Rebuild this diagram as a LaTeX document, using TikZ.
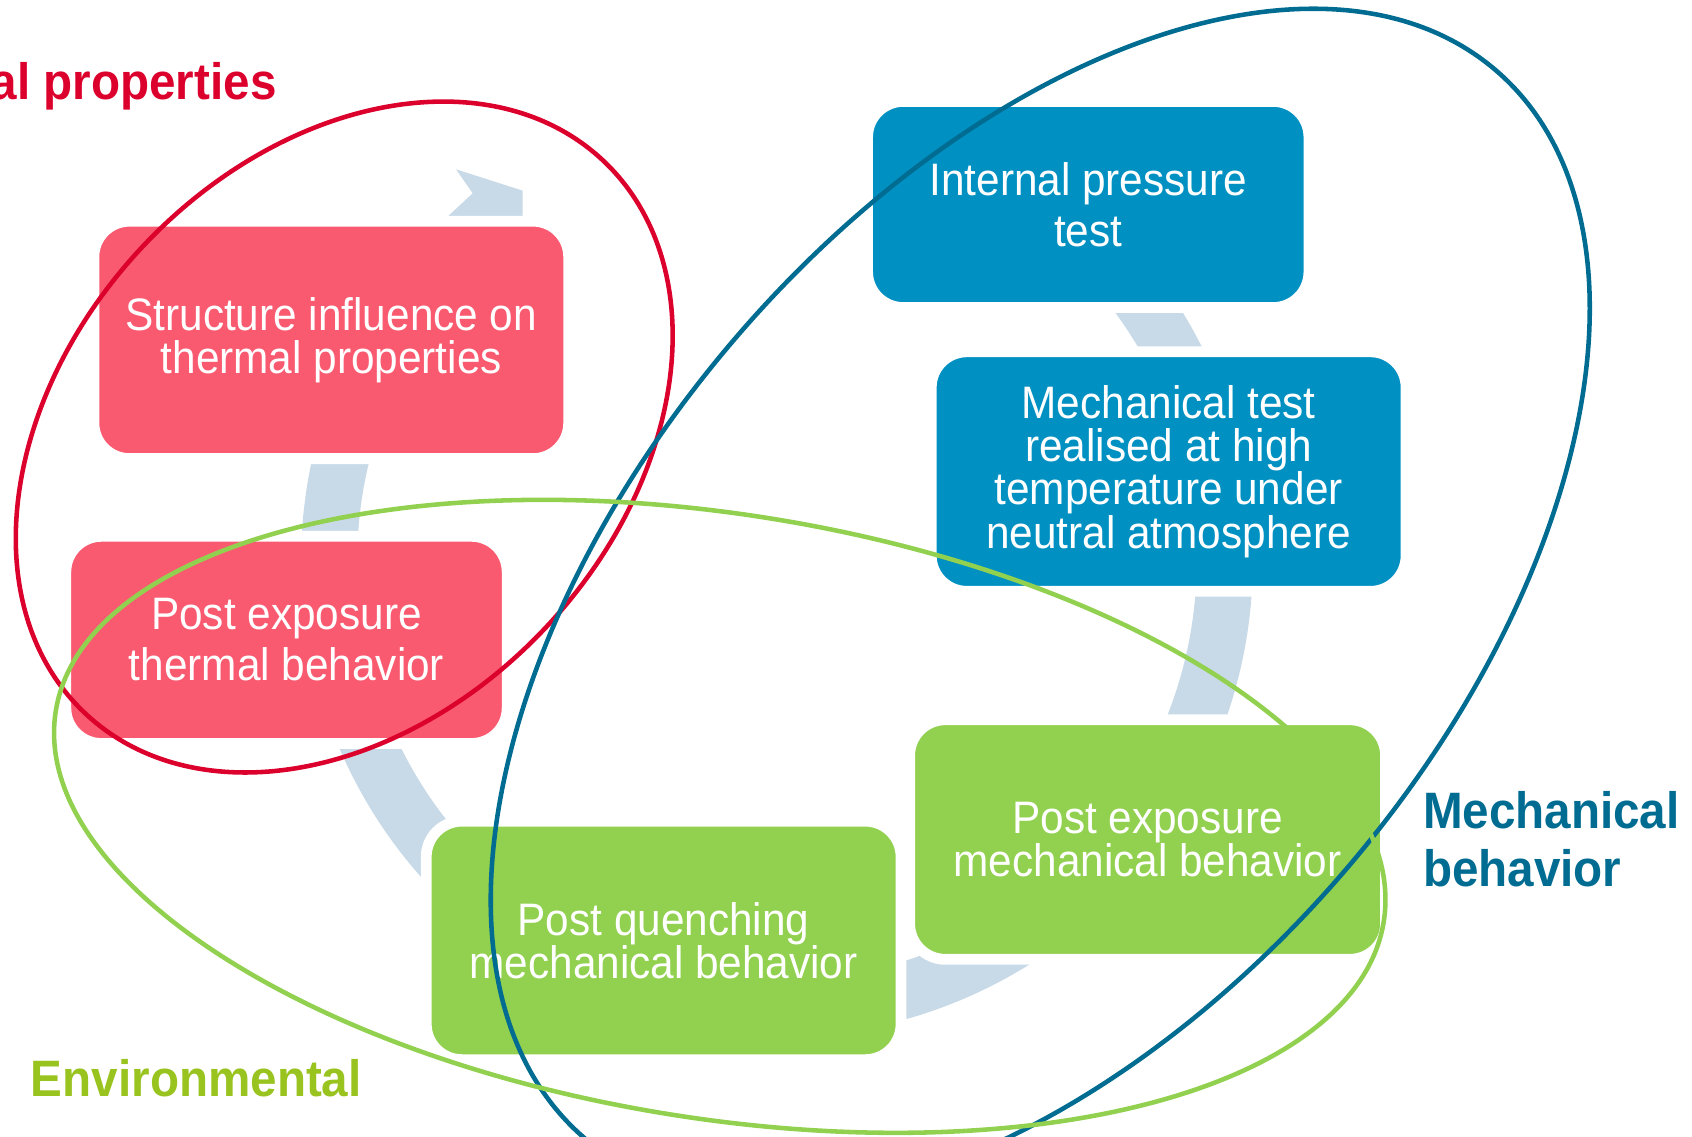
\documentclass[tikz,border=0pt]{standalone}
\usepackage{fontspec}
\setmainfont{Liberation Sans}[FakeStretch=0.93]
\usetikzlibrary{calc}

\definecolor{thermred}{RGB}{220,0,45}
\definecolor{boxred}{RGB}{250,90,112}
\definecolor{mechblue}{RGB}{0,108,145}
\definecolor{boxblue}{RGB}{0,145,194}
\definecolor{envgreen}{RGB}{153,195,30}
\definecolor{boxgreen}{RGB}{146,208,80}
\definecolor{arcgray}{RGB}{200,218,231}

\tikzset{
  stage/.style={rectangle, rounded corners=0.33cm, draw=white, line width=0.1cm,
    inner sep=0pt, text=white, align=center, font=\fontsize{12}{11.4}\selectfont},
  cyclearc/.style={draw=arcgray, line width=0.52cm},
  zone/.style={line width=1.2pt},
  zonelabel/.style={inner sep=0pt, font=\bfseries\fontsize{13.5}{15.1}\selectfont}
}

\begin{document}
\begin{tikzpicture}
\useasboundingbox (0,0) rectangle (15.68,10.53);
\clip (0,0) rectangle (15.68,10.53);

% cycle behind the stages
\coordinate (ringc) at (7.20,5.33);
\foreach \a/\b in {160/185, 195/240, 280/320, -25/10, 22/50}
\draw[cyclearc] ($(ringc)+(\a:4.15)$) arc[start angle=\a, end angle=\b, radius=4.15];
\fill[arcgray] (4.226,8.961) -- (4.844,8.763) -- (4.844,8.38) -- (3.996,8.38) -- (4.38,8.739) -- cycle;

% stages
\node[stage, fill=boxred, minimum width=4.40cm, minimum height=2.20cm] (structure) at (3.07,7.38)
  {Structure influence on\\thermal properties};
\node[stage, fill=boxred, minimum width=4.09cm, minimum height=1.92cm, font=\fontsize{12}{13.4}\selectfont] (thermpost) at (2.655,4.60)
  {Post exposure\\thermal behavior};
\node[stage, fill=boxgreen, minimum width=4.40cm, minimum height=2.21cm] (quench) at (6.15,1.815)
  {Post quenching\\mechanical behavior};
\node[stage, fill=boxgreen, minimum width=4.41cm, minimum height=2.22cm] (mechpost) at (10.635,2.75)
  {Post exposure\\mechanical behavior};
\node[stage, fill=boxblue, minimum width=4.09cm, minimum height=1.91cm, font=\fontsize{12}{13.4}\selectfont] (pressure) at (10.085,8.635)
  {Internal pressure\\test};
\node[stage, fill=boxblue, minimum width=4.40cm, minimum height=2.22cm] (hightemp) at (10.83,6.16)
  {Mechanical test\\realised at high\\temperature under\\neutral atmosphere};

% zones
\draw[zone, thermred, rotate around={47:(3.19,6.48)}] (3.19,6.48) ellipse [x radius=3.51, y radius=2.57];
\draw[zone, mechblue, rotate around={49.6:(9.64,4.93)}] (9.64,4.93) ellipse [x radius=6.505, y radius=3.75];
\draw[zone, boxgreen, rotate around={-9:(6.67,2.965)}] (6.67,2.965) ellipse [x radius=6.23, y radius=2.80];

\node[zonelabel, text=thermred, anchor=base east] (thermlabel) at (2.57,9.61) {Thermal properties};
\node[zonelabel, text=envgreen, anchor=base west] (envlabel) at (0.28,0.37) {Environmental};
\node[zonelabel, text=mechblue, align=left, anchor=north west] (mechlabel) at (13.18,3.20) {Mechanical\\behavior};
\end{tikzpicture}
\end{document}
